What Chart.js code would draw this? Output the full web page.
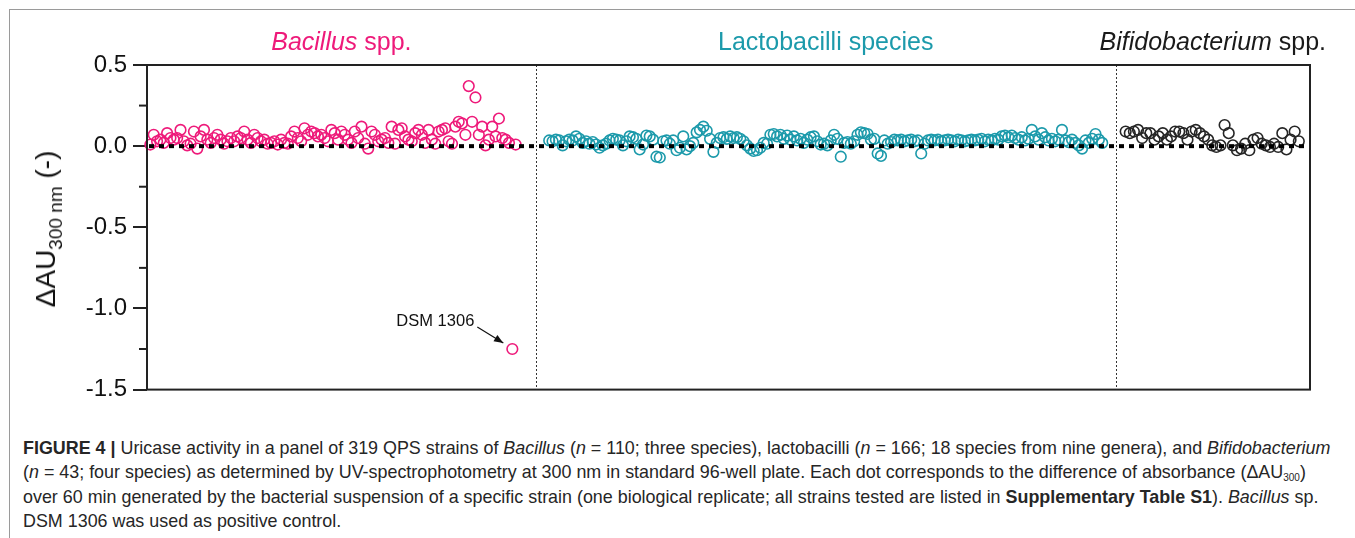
<!DOCTYPE html>
<html>
<head>
<meta charset="utf-8">
<script src="https://cdn.jsdelivr.net/npm/chart.js@4/dist/chart.umd.min.js"></script>
<style>
  html, body { margin: 0; padding: 0; background: #fff; }
  #page { position: relative; width: 1355px; height: 538px; overflow: hidden; font-family: "Liberation Sans", Arial, sans-serif; }
  #frame { position: absolute; left: 9px; top: 9px; width: 1400px; height: 600px; border: 1px solid #9a9a9a; }
  #plot { position: absolute; left: 0; top: 0; width: 1355px; height: 410px; }
  #ytitle { position: absolute; left: 46px; top: 229px; transform: translate(-50%, -50%) rotate(-90deg);
            font-size: 28px; color: #111; white-space: nowrap; line-height: 30px; }
  #ytitle sub { font-size: 19px; vertical-align: -7px; line-height: 0; }
  #caption { position: absolute; left: 23px; top: 436px; font-family: "Liberation Sans", Arial, sans-serif;
             font-size: 17.9px; line-height: 24.4px; color: #262626; white-space: nowrap; }
  #caption div { height: 24.4px; }
  #caption sub { font-size: 10px; vertical-align: -3px; line-height: 0; }
</style>
</head>
<body>
<div id="page">
  <div id="frame"></div>
  <div id="plot"><canvas id="chart"></canvas></div>
  <div id="ytitle">ΔAU<sub>300 nm</sub> (-)</div>
  <div id="caption">
    <div><b>FIGURE 4</b> <b>|</b> Uricase activity in a panel of 319 QPS strains of <i>Bacillus</i> (<i>n</i> = 110; three species), lactobacilli (<i>n</i> = 166; 18 species from nine genera), and <i>Bifidobacterium</i></div>
    <div>(<i>n</i> = 43; four species) as determined by UV-spectrophotometry at 300 nm in standard 96-well plate. Each dot corresponds to the difference of absorbance (ΔAU<sub>300</sub>)</div>
    <div>over 60 min generated by the bacterial suspension of a specific strain (one biological replicate; all strains tested are listed in <b>Supplementary Table S1</b>). <i>Bacillus</i> sp.</div>
    <div>DSM 1306 was used as positive control.</div>
  </div>
</div>
<script>
// ΔAU300 values per strain (strain order left to right)
const bacillus = [
  0.01, 0.07, 0.03, 0.04, 0.02, 0.08, 0.05, 0.04, 0.05, 0.10,
  0.03, 0.005, 0.015, 0.09, -0.015, 0.06, 0.10, 0.04, 0.02, 0.05,
  0.07, 0.04, 0.015, 0.03, 0.05, 0.03, 0.06, 0.05, 0.09, 0.04,
  0.02, 0.07, 0.05, 0.03, 0.04, 0.015, 0.02, 0.03, 0.01, 0.04,
  0.02, 0.015, 0.06, 0.09, 0.05, 0.03, 0.11, 0.07, 0.09, 0.08,
  0.06, 0.07, 0.05, 0.03, 0.10, 0.08, 0.04, 0.09, 0.07, 0.04,
  0.02, 0.09, 0.05, 0.12, 0.015, -0.015, 0.09, 0.07, 0.03, 0.04,
  0.05, 0.02, 0.12, 0.015, 0.10, 0.11, 0.06, 0.04, 0.03, 0.08,
  0.10, 0.07, 0.02, 0.10, 0.04, 0.015, 0.09, 0.10, 0.11, 0.03,
  0.015, 0.12, 0.15, 0.14, 0.07, 0.37, 0.15, 0.30, 0.07, 0.12,
  0.005, 0.04, 0.12, 0.06, 0.17, 0.05, 0.04, 0.02, -1.25, 0.01
];
const lactobacilli = [
  0.035, 0.03, 0.04, 0.035, 0.005, 0.03, 0.04, 0.035, 0.06, 0.045,
  0.02, 0.03, 0.015, 0.025, 0.01, -0.01, 0.005, 0.015, 0.035, 0.045,
  0.04, 0.035, 0.005, 0.03, 0.06, 0.055, 0.045, -0.02, 0.01, 0.065,
  0.06, 0.04, -0.065, -0.07, 0.03, 0.035, 0.015, 0.035, -0.025, -0.01,
  0.06, -0.02, 0.0, 0.02, 0.085, 0.1, 0.12, 0.095, 0.045, -0.035,
  0.02, 0.05, 0.055, 0.045, 0.06, 0.05, 0.055, 0.045, 0.03, 0.005,
  -0.015, -0.03, -0.025, -0.01, 0.02, 0.015, 0.07, 0.075, 0.06, 0.07,
  0.045, 0.065, 0.04, 0.06, 0.035, 0.045, 0.02, 0.04, 0.055, 0.06,
  0.03, 0.01, 0.015, 0.005, 0.035, 0.07, 0.045, -0.065, 0.02, 0.025,
  0.015, 0.03, 0.07, 0.085, 0.08, 0.075, 0.04, 0.045, -0.045, -0.06,
  0.035, 0.015, 0.025, 0.04, 0.035, 0.04, 0.03, 0.035, 0.04, 0.03,
  0.035, -0.045, 0.015, 0.035, 0.04, 0.035, 0.04, 0.03, 0.035, 0.04,
  0.035, 0.03, 0.04, 0.035, 0.03, 0.035, 0.04, 0.035, 0.04, 0.045,
  0.03, 0.04, 0.035, 0.045, 0.04, 0.06, 0.065, 0.055, 0.065, 0.05,
  0.04, 0.055, 0.035, 0.045, 0.1, 0.06, 0.04, 0.08, 0.055, 0.035,
  0.045, 0.03, 0.04, 0.1, 0.035, 0.025, 0.04, 0.02, 0.005, -0.015,
  0.035, 0.02, 0.045, 0.075, 0.04, 0.02
];
const bifidobacterium = [
  0.09, 0.08, 0.09, 0.10, 0.05, 0.08, 0.08, 0.04, 0.06, 0.08,
  0.04, 0.06, 0.09, 0.09, 0.08, 0.04, 0.09, 0.10, 0.08, 0.06,
  0.04, 0.005, -0.005, 0.005, 0.13, 0.08, 0.005, -0.025, -0.015, 0.015,
  -0.025, 0.04, 0.05, 0.015, 0.005, -0.005, 0.015, -0.005, 0.08, -0.02,
  0.04, 0.09, 0.03
];
const groupLabels = [
  { italic: 'Bacillus', plain: ' spp.', color: '#ee1a7a' },
  { italic: '', plain: 'Lactobacilli species', color: '#1c9aab' },
  { italic: 'Bifidobacterium', plain: ' spp.', color: '#1a1a1a' }
];
const yTicks = [0.5, 0.0, -0.5, -1.0, -1.5];
const yMinorTicks = [0.25, -0.25, -0.75, -1.25];
const controlLabel = 'DSM 1306';

// strain-index layout of the three panels along the hidden x axis
const groupStart = [1, 120, 292];
const groupStep = [1, 1, 1.23];
const dividers = [116, 289];
const xMax = 347;

const colors = ['#ee1a7a', '#1c9aab', '#262626'];
const series = [bacillus, lactobacilli, bifidobacterium];

const datasets = series.map((vals, g) => ({
  data: vals.map((v, i) => ({ x: groupStart[g] + groupStep[g] * i, y: v })),
  showLine: false,
  pointStyle: 'circle',
  pointRadius: 5.3,
  pointBorderWidth: 1.6,
  borderColor: colors[g],
  backgroundColor: 'transparent',
  pointHoverRadius: 5.3
}));

const decorations = {
  id: 'decorations',
  beforeDatasetsDraw(chart) {
    const { ctx, chartArea: a, scales: { x } } = chart;
    ctx.save();
    // dotted panel dividers
    ctx.strokeStyle = '#333';
    ctx.lineWidth = 1;
    ctx.setLineDash([2, 2]);
    dividers.forEach(d => {
      const px = Math.round(x.getPixelForValue(d)) + 0.5;
      ctx.beginPath();
      ctx.moveTo(px, a.top);
      ctx.lineTo(px, a.bottom);
      ctx.stroke();
    });
    ctx.restore();
  },
  afterDatasetsDraw(chart) {
    const { ctx, chartArea: a, scales: { x, y } } = chart;
    ctx.save();
    // zero line
    ctx.strokeStyle = '#000';
    ctx.lineWidth = 4;
    ctx.setLineDash([5, 5]);
    const y0 = y.getPixelForValue(0);
    ctx.beginPath();
    ctx.moveTo(a.left + 2, y0);
    ctx.lineTo(a.right, y0);
    ctx.stroke();
    ctx.setLineDash([]);

    // plot frame
    ctx.strokeStyle = '#222';
    ctx.lineWidth = 2;
    ctx.strokeRect(a.left, a.top, a.right - a.left, a.bottom - a.top);

    // minor ticks
    yMinorTicks.forEach(t => {
      const py = y.getPixelForValue(t);
      ctx.beginPath();
      ctx.moveTo(a.left - 8, py);
      ctx.lineTo(a.left, py);
      ctx.stroke();
    });

    // group headings, centred between dividers
    const edges = [x.min, ...dividers, x.max];
    ctx.textBaseline = 'middle';
    ctx.textAlign = 'left';
    groupLabels.forEach((g, k) => {
      const cx = (x.getPixelForValue(edges[k]) + x.getPixelForValue(edges[k + 1])) / 2;
      ctx.font = 'italic 25px "Liberation Sans", Arial';
      const wi = ctx.measureText(g.italic).width;
      ctx.font = '25px "Liberation Sans", Arial';
      const wp = ctx.measureText(g.plain).width;
      const sx = cx - (wi + wp) / 2;
      ctx.fillStyle = g.color;
      ctx.font = 'italic 25px "Liberation Sans", Arial';
      ctx.fillText(g.italic, sx, 43);
      ctx.font = '25px "Liberation Sans", Arial';
      ctx.fillText(g.plain, sx + wi, 43);
    });

    // positive control annotation
    const meta = chart.getDatasetMeta(0);
    const ci = bacillus.indexOf(Math.min(...bacillus));
    const p = meta.data[ci];
    ctx.fillStyle = '#111';
    ctx.font = '16.5px "Liberation Sans", Arial';
    ctx.textAlign = 'right';
    ctx.textBaseline = 'middle';
    ctx.fillText(controlLabel, p.x - 38, p.y - 28);
    const x1 = p.x - 35, y1 = p.y - 22, x2 = p.x - 9, y2 = p.y - 6;
    ctx.strokeStyle = '#111';
    ctx.lineWidth = 1.2;
    ctx.beginPath();
    ctx.moveTo(x1, y1);
    ctx.lineTo(x2, y2);
    ctx.stroke();
    const ang = Math.atan2(y2 - y1, x2 - x1);
    ctx.beginPath();
    ctx.moveTo(x2, y2);
    ctx.lineTo(x2 - 10 * Math.cos(ang - 0.38), y2 - 10 * Math.sin(ang - 0.38));
    ctx.lineTo(x2 - 10 * Math.cos(ang + 0.38), y2 - 10 * Math.sin(ang + 0.38));
    ctx.closePath();
    ctx.fill();
    ctx.restore();
  }
};

new Chart(document.getElementById('chart'), {
  type: 'scatter',
  data: { datasets },
  options: {
    responsive: true,
    maintainAspectRatio: false,
    animation: false,
    clip: false,
    layout: { padding: { top: 65, right: 45, bottom: 11, left: 0 } },
    plugins: { legend: { display: false }, tooltip: { enabled: false } },
    scales: {
      x: { type: 'linear', display: false, min: 0, max: xMax },
      y: {
        min: -1.5,
        max: 0.5,
        afterFit: s => { s.width = 147; },
        afterBuildTicks: s => { s.ticks = yTicks.map(v => ({ value: v })); },
        border: { display: false },
        grid: { drawOnChartArea: false, drawTicks: true, tickLength: 14, color: '#222', lineWidth: 2 },
        ticks: {
          padding: 6,
          color: '#111',
          font: { family: '"Liberation Sans", Arial', size: 24 },
          callback: v => v.toFixed(1)
        }
      }
    }
  },
  plugins: [decorations]
});
</script>
</body>
</html>
